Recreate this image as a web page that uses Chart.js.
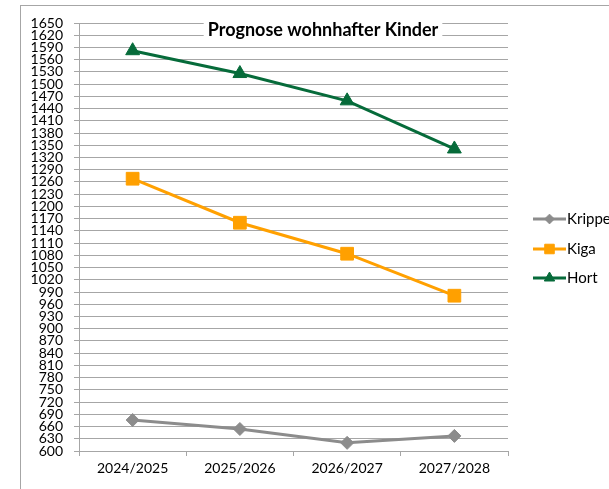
<!DOCTYPE html>
<html>
<head>
<meta charset="utf-8">
<script src="https://cdn.jsdelivr.net/npm/chart.js@4.4.1/dist/chart.umd.min.js"></script>
<style>
    html, body { margin: 0; padding: 0; background: #fff; overflow: hidden; }
    #frame {
        position: absolute; left: 20px; top: 5px; width: 700px; height: 600px;
        border: 1px solid #a6a6a6; box-sizing: border-box;
    }
    #chart { position: absolute; left: 0; top: 0; }
</style>
</head>
<body>
<div id="frame"></div>
<canvas id="chart" width="609" height="489"></canvas>
<script>
// Schuljahre und prognostizierte Kinderzahlen
const years = ['2024/2025', '2025/2026', '2026/2027', '2027/2028'];
const krippe = [676, 654, 620, 637];
const kiga = [1268, 1160, 1084, 981];
const hort = [1582, 1526, 1459, 1341];

const yMin = 600;
const yMax = 1650;
const yStep = 30;

const FONT = 'Lato, "Open Sans", sans-serif';
const GRID = '#a6a6a6';

function series(label, data, color, pointStyle, radius) {
    return {
        label,
        data,
        borderColor: color,
        backgroundColor: color,
        borderWidth: 3,
        pointStyle,
        pointRadius: radius,
        pointHoverRadius: radius,
        pointBorderWidth: 1,
        pointBorderColor: color,
        pointBackgroundColor: color,
        tension: 0,
    };
}

// Titel mit weißem Hintergrund über dem Diagrammbereich
const overlayTitle = {
    id: 'overlayTitle',
    afterDraw(chart) {
        const ctx = chart.ctx;
        const text = 'Prognose wohnhafter Kinder';
        ctx.save();
        ctx.font = `bold 18px ${FONT}`;
        const w = ctx.measureText(text).width;
        const cx = 323;
        const cy = 30;
        ctx.fillStyle = '#fff';
        ctx.fillRect(cx - w / 2 - 4, cy - 7, w + 8, 15);
        ctx.fillStyle = '#000';
        ctx.textAlign = 'center';
        ctx.textBaseline = 'middle';
        ctx.fillText(text, cx, cy);
        ctx.restore();
    },
};

// Legende rechts: Linienstück mit Marker, daneben der Name
const sideLegend = {
    id: 'sideLegend',
    afterDraw(chart) {
        const ctx = chart.ctx;
        const rows = [219, 249, 278];
        ctx.save();
        chart.data.datasets.forEach((ds, i) => {
            const y = rows[i];
            ctx.strokeStyle = ds.borderColor;
            ctx.lineWidth = 3;
            ctx.beginPath();
            ctx.moveTo(533, y);
            ctx.lineTo(566, y);
            ctx.stroke();
            ctx.fillStyle = ds.pointBackgroundColor;
            ctx.strokeStyle = ds.pointBorderColor;
            ctx.lineWidth = 1;
            Chart.helpers.drawPoint(ctx, {
                pointStyle: ds.pointStyle,
                radius: ds.pointRadius * 0.75,
                rotation: 0,
                borderWidth: 1,
            }, 549.5, y);
            ctx.fillStyle = '#000';
            ctx.font = `15px ${FONT}`;
            ctx.textAlign = 'left';
            ctx.textBaseline = 'middle';
            ctx.fillText(ds.label, 567, y);
        });
        ctx.restore();
    },
};

new Chart(document.getElementById('chart'), {
    type: 'line',
    data: {
        labels: years,
        datasets: [
            series('Krippe', krippe, '#8c8c8c', 'rectRot', 6.5),
            series('Kiga', kiga, '#ffa000', 'rect', 9),
            series('Hort', hort, '#066b3a', 'triangle', 8),
        ],
    },
    options: {
        responsive: false,
        animation: false,
        layout: { padding: { left: 0, top: 23, right: 101, bottom: 8 } },
        plugins: {
            legend: { display: false },
            title: { display: false },
            tooltip: { enabled: false },
        },
        scales: {
            x: {
                offset: true,
                afterFit(scale) { scale.height = 30; },
                grid: {
                    offset: true,
                    drawOnChartArea: false,
                    tickLength: 5,
                    color: GRID,
                },
                border: { color: GRID },
                ticks: { font: { family: FONT, size: 14 }, color: '#000', padding: 4 },
            },
            y: {
                min: yMin,
                max: yMax,
                afterFit(scale) { scale.width = 79; },
                grid: { color: GRID, tickLength: 5 },
                border: { color: GRID },
                ticks: {
                    stepSize: yStep,
                    autoSkip: false,
                    padding: 11,
                    callback: (v) => String(v),
                    font: { family: FONT, size: 14, lineHeight: 1 },
                    color: '#000',
                },
            },
        },
    },
    plugins: [overlayTitle, sideLegend],
});
</script>
</body>
</html>
